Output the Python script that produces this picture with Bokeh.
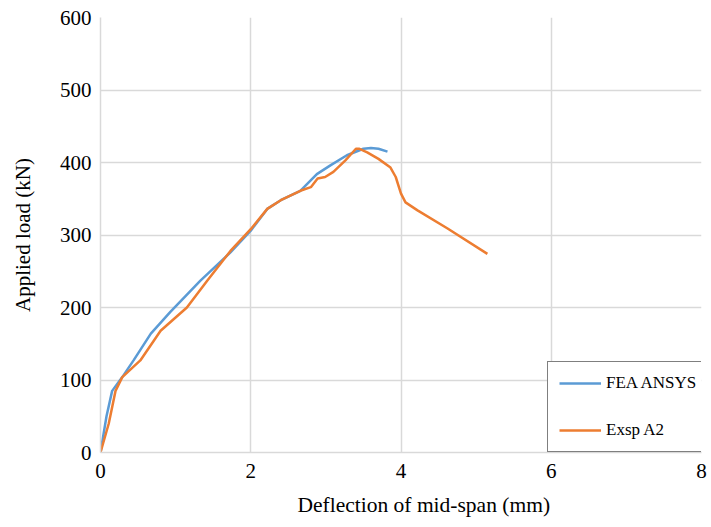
from bokeh.plotting import figure
from bokeh.models import Range1d, FixedTicker, Legend, LegendItem, Title
from bokeh.embed import file_html
from bokeh.resources import INLINE

# FEA ANSYS
fea_x = [0.0, 0.08, 0.155, 0.29, 0.44, 0.67, 0.93, 1.33, 1.73, 2.0, 2.22, 2.4, 2.66, 2.88, 3.06, 3.28, 3.5, 3.6, 3.7, 3.82]
fea_y = [0, 50, 85, 104, 127, 164, 194, 237, 276, 306, 336, 348, 361, 384, 396, 410, 419, 420, 419, 415]

# Exsp A2
exp_x = [0.0, 0.11, 0.2, 0.29, 0.53, 0.8, 1.15, 1.42, 1.73, 2.0, 2.22, 2.4, 2.66, 2.8, 2.89, 2.99, 3.1, 3.26, 3.4, 3.44,
         3.55, 3.7, 3.86, 3.93, 4.0, 4.06, 4.22, 4.62, 5.15]
exp_y = [0, 40, 85, 104, 127, 168, 200, 237, 278, 308, 336, 348, 361, 366, 378, 380, 387, 403, 419, 419,
         414, 405, 393, 380, 357, 345, 334, 309, 274]

x_ticks = [0, 2, 4, 6, 8]
y_ticks = [0, 100, 200, 300, 400, 500, 600]

FONT = "Liberation Serif"

p = figure(width=711, height=527, output_backend="svg", toolbar_location=None,
           x_range=Range1d(0, 8), y_range=Range1d(0, 600),
           min_border_left=100, min_border_right=10, min_border_top=17, min_border_bottom=75)
p.outline_line_color = None
p.background_fill_color = "white"
p.border_fill_color = "white"

for ax in (p.xaxis[0], p.yaxis[0]):
    ax.major_tick_line_color = None
    ax.minor_tick_line_color = None
    ax.axis_line_color = "#d9d9d9"
    ax.axis_line_width = 1.5
    ax.major_label_text_font = FONT
    ax.major_label_text_font_size = "21px"
    ax.major_label_text_color = "black"
    ax.axis_label_text_font = FONT
    ax.axis_label_text_font_size = "21px"
    ax.axis_label_text_font_style = "normal"
    ax.axis_label_text_color = "black"

p.xaxis.ticker = FixedTicker(ticks=x_ticks)
p.yaxis.ticker = FixedTicker(ticks=y_ticks)
p.yaxis.axis_label = "Applied load (kN)"
p.xaxis.major_label_standoff = 5
p.yaxis.major_label_standoff = 3
p.yaxis.axis_label_standoff = 22

xt = Title(text="Deflection of mid-span (mm)", align="left", offset=197,
           text_font=FONT, text_font_size="21.5px", text_font_style="normal",
           text_color="black", standoff=21)
p.add_layout(xt, "below")

p.xgrid.ticker = FixedTicker(ticks=x_ticks)
p.ygrid.ticker = FixedTicker(ticks=y_ticks)
p.grid.grid_line_color = "#d9d9d9"
p.grid.grid_line_width = 1.5

r1 = p.line(fea_x, fea_y, line_color="#5B9BD5", line_width=2.5)
r2 = p.line(exp_x, exp_y, line_color="#ED7D31", line_width=2.5)

legend = Legend(items=[LegendItem(label="FEA ANSYS", renderers=[r1]),
                       LegendItem(label="Exsp A2", renderers=[r2])],
                location=(447, 0), orientation="vertical")
legend.label_text_font = FONT
legend.label_text_font_size = "17px"
legend.label_text_color = "black"
legend.border_line_color = "black"
legend.border_line_width = 1.5
legend.glyph_width = 42
legend.glyph_height = 20
legend.spacing = 27
legend.padding = 11
legend.margin = 0
legend.label_standoff = 5
legend.background_fill_alpha = 1
p.add_layout(legend, "center")

open("out.html", "w").write(file_html(p, INLINE))
